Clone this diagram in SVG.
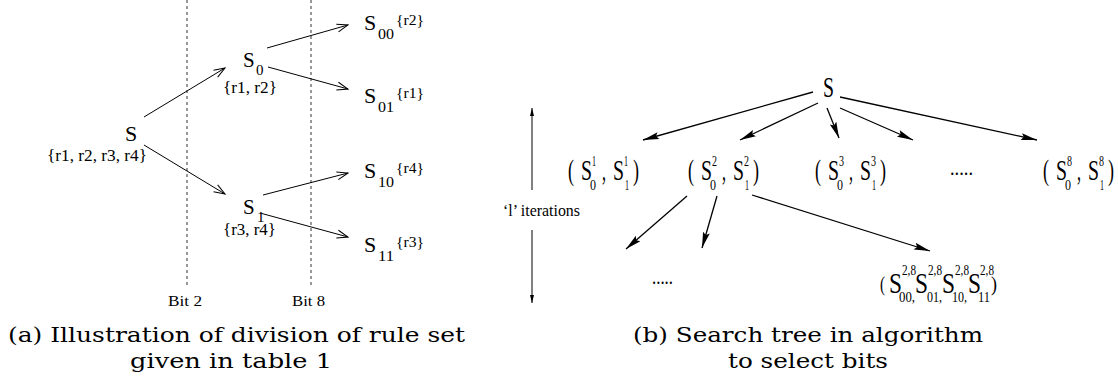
<svg xmlns="http://www.w3.org/2000/svg" width="1118" height="389" viewBox="0 0 1118 389">
<style>
  .t { font-family: "Liberation Serif", "Times New Roman", serif; fill: #000; }
  .cap { font-family: "DejaVu Serif", serif; font-size: 21px; fill: #000; }
  .la { stroke: #000; stroke-width: 1; fill: none; }
  .ra { stroke: #000; stroke-width: 1.3; fill: none; }
  .dash { stroke: #555; stroke-width: 1.2; stroke-dasharray: 3 3; fill: none; }
</style>
<defs>
  <marker id="open" markerUnits="userSpaceOnUse" markerWidth="14" markerHeight="12" refX="12" refY="5" orient="auto" overflow="visible">
    <path d="M1,1 L12,5 L1,9" fill="none" stroke="#000" stroke-width="1"/>
  </marker>
  <marker id="fill" markerUnits="userSpaceOnUse" markerWidth="18" markerHeight="10" refX="16" refY="4" orient="auto" overflow="visible">
    <path d="M0,0.5 L16,4 L0,7.5 L2.5,4 Z" fill="#000"/>
  </marker>
  <marker id="thin" markerUnits="userSpaceOnUse" markerWidth="10" markerHeight="6" refX="8" refY="3" orient="auto-start-reverse" overflow="visible">
    <path d="M0,1 L8,3 L0,5 Z" fill="#000"/>
  </marker>
</defs>

<g id="guides">
  <line class="dash" x1="187" y1="0" x2="187" y2="286"/>
  <line class="dash" x1="311" y1="0" x2="311" y2="286"/>
  <text class="t" x="168" y="306" font-size="15" textLength="34" lengthAdjust="spacingAndGlyphs">Bit 2</text>
  <text class="t" x="292" y="306" font-size="15" textLength="33" lengthAdjust="spacingAndGlyphs">Bit 8</text>
</g>

<g id="connectors-a">
  <line class="la" x1="144" y1="117" x2="225" y2="68" marker-end="url(#open)"/>
  <line class="la" x1="144" y1="145" x2="225" y2="194" marker-end="url(#open)"/>
  <line class="la" x1="267" y1="48" x2="348" y2="25" marker-end="url(#open)"/>
  <line class="la" x1="268" y1="67" x2="348" y2="89" marker-end="url(#open)"/>
  <line class="la" x1="263" y1="195" x2="348" y2="173" marker-end="url(#open)"/>
  <line class="la" x1="260" y1="213" x2="348" y2="237" marker-end="url(#open)"/>
</g>

<g id="a-S">
  <text class="t" x="125" y="141" font-size="22">S</text>
  <text class="t" x="97" y="161" font-size="17" text-anchor="middle" textLength="100" lengthAdjust="spacingAndGlyphs">{r1, r2, r3, r4}</text>
</g>
<g id="a-S0">
  <text class="t" x="243" y="67" font-size="21">S</text>
  <text class="t" x="256" y="75" font-size="15">0</text>
  <text class="t" x="223" y="93" font-size="17" textLength="54" lengthAdjust="spacingAndGlyphs">{r1, r2}</text>
</g>
<g id="a-S1">
  <text class="t" x="243" y="214" font-size="21">S</text>
  <text class="t" x="257" y="222" font-size="15">1</text>
  <text class="t" x="223" y="235" font-size="17" textLength="53" lengthAdjust="spacingAndGlyphs">{r3, r4}</text>
</g>
<g id="a-S00">
  <text class="t" x="364" y="30" font-size="22">S</text>
  <text class="t" x="378" y="39" font-size="15" textLength="16" lengthAdjust="spacingAndGlyphs">00</text>
  <text class="t" x="396" y="25" font-size="15" textLength="28" lengthAdjust="spacingAndGlyphs">{r2}</text>
</g>
<g id="a-S01">
  <text class="t" x="364" y="103" font-size="22">S</text>
  <text class="t" x="378" y="112" font-size="15" textLength="16" lengthAdjust="spacingAndGlyphs">01</text>
  <text class="t" x="396" y="98" font-size="15" textLength="28" lengthAdjust="spacingAndGlyphs">{r1}</text>
</g>
<g id="a-S10">
  <text class="t" x="364" y="178" font-size="22">S</text>
  <text class="t" x="378" y="187" font-size="15" textLength="16" lengthAdjust="spacingAndGlyphs">10</text>
  <text class="t" x="396" y="173" font-size="15" textLength="28" lengthAdjust="spacingAndGlyphs">{r4}</text>
</g>
<g id="a-S11">
  <text class="t" x="364" y="252" font-size="22">S</text>
  <text class="t" x="378" y="261" font-size="15" textLength="16" lengthAdjust="spacingAndGlyphs">11</text>
  <text class="t" x="396" y="247" font-size="15" textLength="28" lengthAdjust="spacingAndGlyphs">{r3}</text>
</g>

<g id="connectors-b">
  <line class="ra" x1="813" y1="92" x2="643" y2="140" marker-end="url(#fill)"/>
  <line class="ra" x1="818" y1="103" x2="740" y2="140" marker-end="url(#fill)"/>
  <line class="ra" x1="827" y1="108" x2="839" y2="138" marker-end="url(#fill)"/>
  <line class="ra" x1="840" y1="108" x2="913" y2="140" marker-end="url(#fill)"/>
  <line class="ra" x1="840" y1="97" x2="1037" y2="140" marker-end="url(#fill)"/>
  <line class="ra" x1="687" y1="196" x2="626" y2="249" marker-end="url(#fill)"/>
  <line class="ra" x1="717" y1="196" x2="702" y2="248" marker-end="url(#fill)"/>
  <line class="ra" x1="752" y1="195" x2="930" y2="251" marker-end="url(#fill)"/>
  <line stroke="#000" stroke-width="1" x1="532" y1="108" x2="532" y2="190" marker-start="url(#thin)"/>
  <line stroke="#000" stroke-width="1" x1="532" y1="230" x2="532" y2="303" marker-end="url(#thin)"/>
</g>

<g id="b-iter">
  <text class="t" x="503" y="216" font-size="17" textLength="77" lengthAdjust="spacingAndGlyphs">‘l’  iterations</text>
</g>

<g id="b-S">
  <text class="t" x="823" y="97" font-size="29" textLength="11" lengthAdjust="spacingAndGlyphs">S</text>
</g>

<g id="b-n1" transform="translate(568,0)">
  <text class="t" x="0" y="180" font-size="30" textLength="6" lengthAdjust="spacingAndGlyphs">(</text>
  <text class="t" x="13" y="180" font-size="30" textLength="11" lengthAdjust="spacingAndGlyphs">S</text>
  <text class="t" x="24" y="166" font-size="15" textLength="4" lengthAdjust="spacingAndGlyphs">1</text>
  <text class="t" x="22" y="190" font-size="15" textLength="6" lengthAdjust="spacingAndGlyphs">0</text>
  <text class="t" x="34" y="180" font-size="30" textLength="4" lengthAdjust="spacingAndGlyphs">,</text>
  <text class="t" x="45" y="180" font-size="30" textLength="11" lengthAdjust="spacingAndGlyphs">S</text>
  <text class="t" x="56" y="166" font-size="15" textLength="4" lengthAdjust="spacingAndGlyphs">1</text>
  <text class="t" x="57" y="190" font-size="15" textLength="4" lengthAdjust="spacingAndGlyphs">1</text>
  <text class="t" x="65" y="180" font-size="30" textLength="6" lengthAdjust="spacingAndGlyphs">)</text>
</g>
<g id="b-n2" transform="translate(688,0)">
  <text class="t" x="0" y="180" font-size="30" textLength="6" lengthAdjust="spacingAndGlyphs">(</text>
  <text class="t" x="13" y="180" font-size="30" textLength="11" lengthAdjust="spacingAndGlyphs">S</text>
  <text class="t" x="24" y="166" font-size="15" textLength="5" lengthAdjust="spacingAndGlyphs">2</text>
  <text class="t" x="22" y="190" font-size="15" textLength="6" lengthAdjust="spacingAndGlyphs">0</text>
  <text class="t" x="34" y="180" font-size="30" textLength="4" lengthAdjust="spacingAndGlyphs">,</text>
  <text class="t" x="45" y="180" font-size="30" textLength="11" lengthAdjust="spacingAndGlyphs">S</text>
  <text class="t" x="56" y="166" font-size="15" textLength="5" lengthAdjust="spacingAndGlyphs">2</text>
  <text class="t" x="57" y="190" font-size="15" textLength="4" lengthAdjust="spacingAndGlyphs">1</text>
  <text class="t" x="65" y="180" font-size="30" textLength="6" lengthAdjust="spacingAndGlyphs">)</text>
</g>
<g id="b-n3" transform="translate(815,0)">
  <text class="t" x="0" y="180" font-size="30" textLength="6" lengthAdjust="spacingAndGlyphs">(</text>
  <text class="t" x="13" y="180" font-size="30" textLength="11" lengthAdjust="spacingAndGlyphs">S</text>
  <text class="t" x="24" y="166" font-size="15" textLength="5" lengthAdjust="spacingAndGlyphs">3</text>
  <text class="t" x="22" y="190" font-size="15" textLength="6" lengthAdjust="spacingAndGlyphs">0</text>
  <text class="t" x="34" y="180" font-size="30" textLength="4" lengthAdjust="spacingAndGlyphs">,</text>
  <text class="t" x="45" y="180" font-size="30" textLength="11" lengthAdjust="spacingAndGlyphs">S</text>
  <text class="t" x="56" y="166" font-size="15" textLength="5" lengthAdjust="spacingAndGlyphs">3</text>
  <text class="t" x="57" y="190" font-size="15" textLength="4" lengthAdjust="spacingAndGlyphs">1</text>
  <text class="t" x="65" y="180" font-size="30" textLength="6" lengthAdjust="spacingAndGlyphs">)</text>
</g>
<g id="b-dots1">
  <text class="t" x="950" y="175" font-size="20" textLength="23" lengthAdjust="spacingAndGlyphs">.....</text>
</g>
<g id="b-n8" transform="translate(1043,0)">
  <text class="t" x="0" y="180" font-size="30" textLength="6" lengthAdjust="spacingAndGlyphs">(</text>
  <text class="t" x="13" y="180" font-size="30" textLength="11" lengthAdjust="spacingAndGlyphs">S</text>
  <text class="t" x="24" y="166" font-size="15" textLength="5" lengthAdjust="spacingAndGlyphs">8</text>
  <text class="t" x="22" y="190" font-size="15" textLength="6" lengthAdjust="spacingAndGlyphs">0</text>
  <text class="t" x="34" y="180" font-size="30" textLength="4" lengthAdjust="spacingAndGlyphs">,</text>
  <text class="t" x="45" y="180" font-size="30" textLength="11" lengthAdjust="spacingAndGlyphs">S</text>
  <text class="t" x="56" y="166" font-size="15" textLength="5" lengthAdjust="spacingAndGlyphs">8</text>
  <text class="t" x="57" y="190" font-size="15" textLength="4" lengthAdjust="spacingAndGlyphs">1</text>
  <text class="t" x="65" y="180" font-size="30" textLength="6" lengthAdjust="spacingAndGlyphs">)</text>
</g>
<g id="b-dots2">
  <text class="t" x="652" y="284" font-size="20" textLength="21" lengthAdjust="spacingAndGlyphs">.....</text>
</g>
<g id="b-n28">
  <text class="t" x="880" y="291" font-size="20" textLength="5" lengthAdjust="spacingAndGlyphs">(</text>
  <text class="t" x="889" y="293" font-size="30" textLength="13" lengthAdjust="spacingAndGlyphs">S</text>
  <text class="t" x="902" y="275" font-size="15" textLength="14" lengthAdjust="spacingAndGlyphs">2,8</text>
  <text class="t" x="899" y="302" font-size="14" textLength="16" lengthAdjust="spacingAndGlyphs">00,</text>
  <text class="t" x="915" y="293" font-size="30" textLength="13" lengthAdjust="spacingAndGlyphs">S</text>
  <text class="t" x="928" y="275" font-size="15" textLength="14" lengthAdjust="spacingAndGlyphs">2,8</text>
  <text class="t" x="927" y="302" font-size="14" textLength="15" lengthAdjust="spacingAndGlyphs">01,</text>
  <text class="t" x="942" y="293" font-size="30" textLength="13" lengthAdjust="spacingAndGlyphs">S</text>
  <text class="t" x="955" y="275" font-size="15" textLength="14" lengthAdjust="spacingAndGlyphs">2,8</text>
  <text class="t" x="952" y="302" font-size="14" textLength="15" lengthAdjust="spacingAndGlyphs">10,</text>
  <text class="t" x="968" y="293" font-size="30" textLength="13" lengthAdjust="spacingAndGlyphs">S</text>
  <text class="t" x="980" y="275" font-size="15" textLength="14" lengthAdjust="spacingAndGlyphs">2,8</text>
  <text class="t" x="978" y="302" font-size="14" textLength="12" lengthAdjust="spacingAndGlyphs">11</text>
  <text class="t" x="991" y="291" font-size="20" textLength="6" lengthAdjust="spacingAndGlyphs">)</text>
</g>

<g id="captions">
  <text class="cap" x="8" y="342" textLength="457" lengthAdjust="spacingAndGlyphs">(a) Illustration of division of rule set</text>
  <text class="cap" x="130" y="368" textLength="202" lengthAdjust="spacingAndGlyphs">given in table 1</text>
  <text class="cap" x="633" y="342" textLength="350" lengthAdjust="spacingAndGlyphs">(b) Search tree in algorithm</text>
  <text class="cap" x="728" y="368" textLength="160" lengthAdjust="spacingAndGlyphs">to select bits</text>
</g>
</svg>
